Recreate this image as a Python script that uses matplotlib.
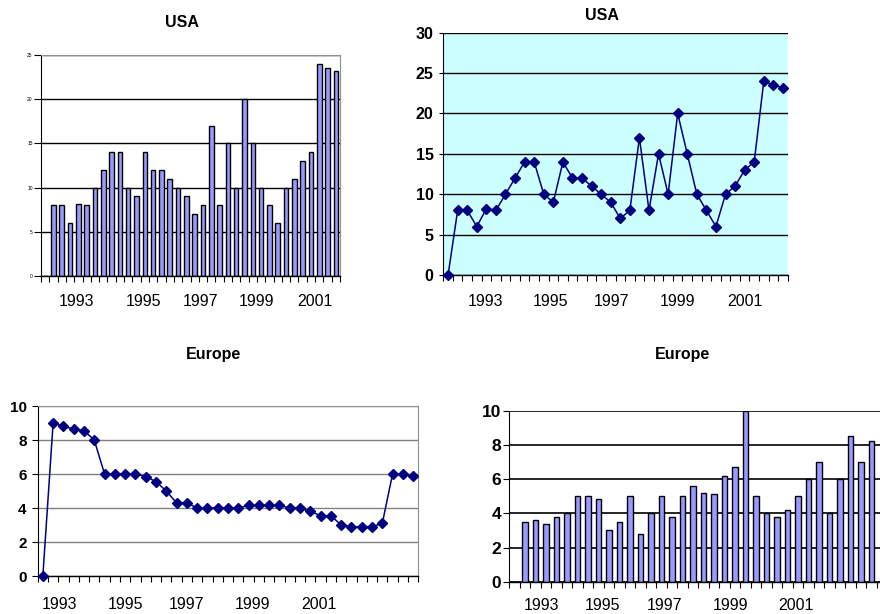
import matplotlib
matplotlib.use("Agg")
import matplotlib.pyplot as plt
import numpy as np

plt.rcParams['font.family'] = ['Liberation Sans', 'DejaVu Sans']

# quarterly series, first slot is the empty start of the axis
usa = [0, 8, 8, 6, 8.2, 8, 10, 12, 14, 14, 10, 9, 14, 12, 12, 11, 10, 9, 7, 8,
       17, 8, 15, 10, 20, 15, 10, 8, 6, 10, 11, 13, 14, 24, 23.5, 23.2]
europe_line = [0, 9, 8.8, 8.65, 8.55, 8, 6, 6, 6, 6, 5.85, 5.55, 5, 4.3, 4.3,
               4, 4, 4, 4, 4, 4.15, 4.15, 4.15, 4.15, 4, 4, 3.8, 3.55, 3.55,
               3, 2.9, 2.9, 2.9, 3.1, 6, 6, 5.9]
europe_bars = [0, 3.5, 3.6, 3.4, 3.8, 4, 5, 5, 4.85, 3, 3.5, 5, 2.8, 4, 5, 3.8,
               5, 5.6, 5.2, 5.1, 6.2, 6.7, 10, 5, 4, 3.8, 4.2, 5, 6, 7, 4, 6,
               8.5, 7, 8.2]
year_labels = ['1993', '1995', '1997', '1999', '2001']

# where each panel prints its year labels (category units)
usa_bar_years = [3.8, 11.8, 18.7, 25.5, 32.5]
usa_line_years = [3.9, 10.7, 17.1, 24.0, 31.0]
eu_line_years = [1.6, 8.0, 14.0, 20.4, 26.8]
eu_bar_years = [2.55, 8.4, 14.3, 20.6, 26.8]

NAVY = '#000080'
BAR = '#9999FF'

fig = plt.figure(figsize=(8.8, 6.14), dpi=100)


def category_axis(ax, n, years, pad):
    ax.set_xlim(-0.5, n - 0.5)
    ax.xaxis.remove_overlapping_locs = False
    ax.set_xticks(np.arange(n + 1) - 0.5)
    ax.set_xticklabels([])
    ax.tick_params(axis='x', which='major', direction='out', length=4,
                   width=0.8, color='black')
    ax.set_xticks(years, minor=True)
    ax.set_xticklabels(year_labels, minor=True, fontsize=11.5)
    ax.tick_params(axis='x', which='minor', length=0, pad=pad)


def frame(ax, edge_color):
    ax.spines['left'].set_color('black')
    ax.spines['bottom'].set_color('black')
    ax.spines['bottom'].set_linewidth(1.0)
    for s in ('top', 'right'):
        if edge_color is None:
            ax.spines[s].set_visible(False)
        else:
            ax.spines[s].set_color(edge_color)
            ax.spines[s].set_linewidth(0.8)
    ax.set_axisbelow(True)


# top left: USA bars
ax1 = fig.add_axes([41 / 880, 1 - 276 / 614, 299 / 880, 221 / 614])
x = np.arange(len(usa))
ax1.bar(x, usa, width=0.55, color=BAR, edgecolor='black', linewidth=1.0)
ax1.set_ylim(0, 25)
ax1.set_yticks(range(0, 26, 5))
ax1.tick_params(axis='y', labelsize=3.5, length=5, width=0.8, pad=1)
ax1.yaxis.grid(True, color='black', linewidth=1.0)
category_axis(ax1, len(usa), usa_bar_years, 13)
frame(ax1, '#909090')
ax1.text(0.472, 1.145, 'USA', transform=ax1.transAxes, ha='center',
         va='center', fontsize=11.5, fontweight='bold')

# top right: USA line
ax2 = fig.add_axes([443.3 / 880, 1 - 275 / 614, 344.4 / 880, 242.3 / 614])
ax2.set_facecolor('#CCFFFF')
ax2.plot(x, usa, color=NAVY, linewidth=1.1, marker='D', markersize=4.8,
         markerfacecolor=NAVY, markeredgecolor=NAVY, clip_on=False, zorder=3)
ax2.set_ylim(0, 30)
ax2.set_yticks(range(0, 31, 5))
ax2.tick_params(axis='y', labelsize=11.5, length=3, width=0.8, pad=4)
for t in ax2.get_yticklabels():
    t.set_fontweight('bold')
ax2.yaxis.grid(True, color='black', linewidth=1.0)
category_axis(ax2, len(usa), usa_line_years, 14)
frame(ax2, None)
ax2.text(0.461, 1.073, 'USA', transform=ax2.transAxes, ha='center',
         va='center', fontsize=11.5, fontweight='bold')

# bottom left: Europe line
ax3 = fig.add_axes([37.7 / 880, 1 - 576 / 614, 380.6 / 880, 170 / 614])
xe = np.arange(len(europe_line))
ax3.plot(xe, europe_line, color=NAVY, linewidth=1.1, marker='D',
         markersize=4.8, markerfacecolor=NAVY, markeredgecolor=NAVY,
         clip_on=False, zorder=3)
ax3.set_ylim(0, 10)
ax3.set_yticks(range(0, 11, 2))
ax3.tick_params(axis='y', labelsize=11, length=4, width=0.8, pad=4)
for t in ax3.get_yticklabels():
    t.set_fontweight('bold')
ax3.yaxis.grid(True, color='#808080', linewidth=1.0)
category_axis(ax3, len(europe_line), eu_line_years, 15)
frame(ax3, '#909090')
ax3.text(0.462, 1.3, 'Europe', transform=ax3.transAxes, ha='center',
         va='center', fontsize=11.5, fontweight='bold')

# bottom right: Europe bars (axis runs past the right edge)
ax4 = fig.add_axes([509.3 / 880, 1 - 581.7 / 614, 388.5 / 880, 171 / 614])
xb = np.arange(len(europe_bars))
ax4.bar(xb, europe_bars, width=0.5, color=BAR, edgecolor='black',
        linewidth=1.0)
ax4.set_ylim(0, 10)
ax4.set_yticks(range(0, 11, 2))
ax4.tick_params(axis='y', labelsize=12.5, length=4, width=0.8, pad=2)
for t in ax4.get_yticklabels():
    t.set_fontweight('bold')
ax4.yaxis.grid(True, color='black', linewidth=1.2)
category_axis(ax4, len(europe_line), eu_bar_years, 11.5)
frame(ax4, None)
ax4.text(0.446, 1.326, 'Europe', transform=ax4.transAxes, ha='center',
         va='center', fontsize=11.5, fontweight='bold')

fig.savefig('out.png', dpi=100)
